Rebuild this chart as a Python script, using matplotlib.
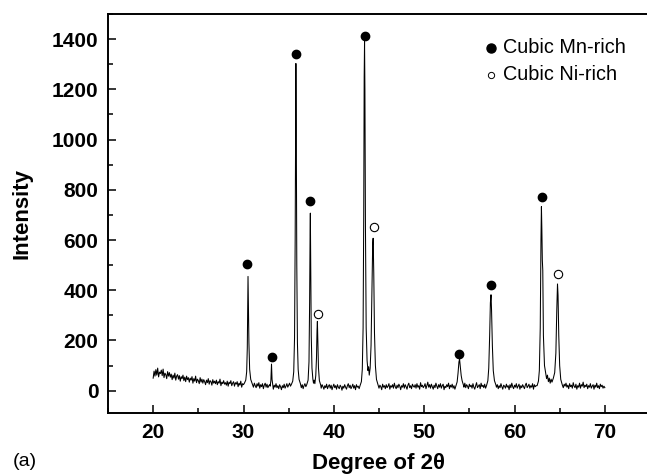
import numpy as np
import matplotlib
matplotlib.use("Agg")
import matplotlib.pyplot as plt
from matplotlib.ticker import MultipleLocator

plt.rcParams['font.family'] = ['Liberation Sans', 'DejaVu Sans']

# background counts, 2theta = 20.0, 20.1, ... 70.0 (one row per degree)
bg_start = 20.0
bg_step = 0.1
bg_counts = [
    50, 78, 58, 84, 62, 90, 55, 74, 68, 82,
    60, 86, 52, 70, 64, 48, 76, 58, 72, 54,
    66, 44, 62, 50, 70, 42, 58, 64, 46, 60,
    38, 56, 48, 62, 40, 54, 36, 58, 44, 52,
    34, 50, 42, 56, 30, 48, 38, 58, 32, 46,
    40, 28, 52, 34, 46, 30, 44, 36, 24, 42,
    32, 48, 26, 40, 36, 22, 44, 30, 38, 28,
    42, 24, 36, 30, 46, 20, 34, 28, 40, 26,
    32, 22, 38, 18, 34, 28, 40, 20, 30, 36,
    18, 32, 26, 36, 16, 30, 22, 38, 14, 28,
    24, 34, 20, 30, 26, 36, 28, 32, 22, 30,
    26, 14, 30, 20, 12, 28, 18, 32, 10, 24,
    16, 28, 8, 22, 30, 14, 26, 12, 20, 24,
    10, 26, 18, 6, 22, 14, 28, 12, 20, 8,
    24, 16, 4, 20, 12, 26, 10, 18, 28, 14,
    22, 30, 18, 26, 32, 24, 36, 40, 44, 40,
    34, 30, 26, 22, 12, 24, 8, 20, 28, 16,
    26, 30, 34, 38, 40, 42, 40, 36, 32, 34,
    36, 40, 44, 40, 30, 22, 10, 24, 16, 6,
    20, 12, 26, 8, 18, 24, 10, 22, 4, 16,
    26, 12, 20, 6, 24, 14, 8, 22, 16, 2,
    18, 10, 24, 14, 6, 20, 28, 12, 22, 8,
    16, 26, 10, 20, 4, 24, 14, 18, 8, 22,
    12, 26, 18, 22, 20, 20, 20, 20, 20, 20,
    20, 20, 20, 20, 20, 20, 20, 20, 20, 24,
    10, 22, 16, 4, 26, 14, 20, 8, 24, 12,
    18, 28, 6, 20, 14, 24, 10, 30, 16, 8,
    22, 12, 26, 18, 4, 20, 14, 28, 10, 24,
    16, 6, 22, 30, 12, 20, 8, 26, 18, 14,
    24, 10, 28, 14, 20, 6, 32, 16, 22, 12,
    18, 28, 8, 20, 34, 14, 24, 10, 26, 16,
    6, 22, 12, 30, 18, 8, 24, 14, 28, 10,
    20, 26, 4, 18, 12, 24, 16, 30, 8, 22,
    14, 26, 10, 20, 6, 18, 20, 20, 20, 20,
    20, 20, 20, 20, 14, 30, 12, 24, 18, 8,
    26, 16, 22, 10, 28, 14, 6, 20, 32, 12,
    18, 24, 8, 30, 16, 22, 12, 26, 10, 20,
    20, 20, 20, 20, 20, 20, 20, 20, 20, 20,
    14, 24, 8, 20, 12, 28, 16, 6, 22, 18,
    10, 26, 14, 20, 4, 24, 12, 30, 16, 8,
    22, 14, 28, 10, 18, 26, 6, 20, 12, 24,
    16, 8, 22, 30, 12, 18, 26, 10, 20, 14,
    28, 6, 24, 16, 20, 20, 20, 20, 20, 20,
    20, 20, 20, 20, 20, 20, 20, 20, 20, 20,
    20, 20, 20, 20, 20, 20, 20, 20, 20, 20,
    20, 20, 20, 20, 12, 26, 18, 30, 14, 22,
    8, 28, 16, 22, 10, 32, 18, 12, 26, 6,
    20, 14, 30, 10, 24, 18, 34, 12, 22, 16,
    26, 8, 20, 14, 28, 10, 18, 24, 6, 22,
    14, 30, 12, 20, 8, 26, 16, 22, 10, 18,
    12,
]

# peak profiles: (2theta, intensity)
peaks = [
    [(30.1, 30), (30.25, 42), (30.35, 75), (30.42, 170), (30.47, 340), (30.5, 455),
     (30.54, 360), (30.6, 190), (30.68, 85), (30.8, 45), (30.95, 30)],
    [(32.95, 18), (33.03, 40), (33.1, 106), (33.16, 45), (33.25, 20)],
    [(35.3, 25), (35.45, 38), (35.56, 75), (35.65, 210), (35.72, 600), (35.77, 1100),
     (35.8, 1303), (35.84, 1050), (35.9, 500), (35.97, 190), (36.05, 85), (36.15, 45),
     (36.3, 28)],
    [(37.0, 24), (37.15, 42), (37.25, 115), (37.32, 350), (37.37, 620), (37.4, 707),
     (37.44, 520), (37.5, 220), (37.58, 90), (37.68, 46), (37.75, 30), (37.82, 42),
     (37.9, 28), (38.0, 60), (38.08, 130), (38.14, 240), (38.18, 276), (38.23, 200),
     (38.3, 90), (38.4, 40), (38.55, 22)],
    [(42.9, 20), (43.05, 36), (43.15, 85), (43.24, 250), (43.31, 700), (43.36, 1250),
     (43.4, 1390), (43.44, 1200), (43.5, 650), (43.58, 250), (43.68, 120), (43.78, 80),
     (43.85, 95), (43.92, 62), (44.02, 90), (44.12, 180), (44.22, 400), (44.3, 580),
     (44.35, 607), (44.42, 470), (44.5, 230), (44.6, 100), (44.72, 45), (44.88, 25)],
    [(53.5, 18), (53.65, 35), (53.75, 70), (53.85, 115), (53.92, 125), (54.0, 95),
     (54.1, 60), (54.2, 40), (54.35, 22)],
    [(56.9, 20), (57.05, 40), (57.15, 90), (57.25, 220), (57.33, 350), (57.4, 382),
     (57.46, 320), (57.55, 180), (57.65, 80), (57.78, 40), (57.95, 22)],
    [(62.5, 20), (62.65, 38), (62.75, 80), (62.85, 250), (62.93, 600), (62.98, 733),
     (63.03, 640), (63.08, 520), (63.13, 480), (63.2, 220), (63.32, 100), (63.45, 70),
     (63.55, 48), (63.65, 62), (63.75, 36), (63.85, 50), (63.95, 30), (64.05, 46),
     (64.15, 34), (64.3, 50), (64.45, 72), (64.58, 150), (64.68, 320), (64.76, 425),
     (64.82, 380), (64.9, 220), (65.0, 100), (65.12, 45), (65.3, 22)],
]

# phase markers
mn_rich_x = [30.4, 33.1, 35.8, 37.4, 43.4, 53.9, 57.4, 63.0]
mn_rich_y = [506, 135, 1340, 756, 1413, 146, 419, 770]
ni_rich_x = [38.2, 44.4, 64.8]
ni_rich_y = [304, 650, 463]

# merge background and peaks
bg_x = np.round(bg_start + bg_step * np.arange(len(bg_counts)), 2)
bg_y = np.array(bg_counts, dtype=float)
keep = np.ones(len(bg_x), dtype=bool)
px, py = [], []
for pk in peaks:
    xs = [p[0] for p in pk]
    keep &= ~((bg_x >= min(xs)) & (bg_x <= max(xs)))
    px += xs
    py += [p[1] for p in pk]
two_theta = np.concatenate([bg_x[keep], px])
intensity = np.concatenate([bg_y[keep], py])
order = np.argsort(two_theta)
two_theta, intensity = two_theta[order], intensity[order]

fig = plt.figure(figsize=(6.47, 4.76), dpi=100)
ax = fig.add_axes([108/647, 1 - 413.3/476, 542/647, 399.3/476])

ax.plot(two_theta, intensity, color='black', lw=0.75)
ax.plot(mn_rich_x, mn_rich_y, 'o', color='black', ms=6, ls='none')
ax.plot(ni_rich_x, ni_rich_y, 'o', mfc='white', mec='black', mew=0.8, ms=6, ls='none')

ax.set_xlim(15, 75)
ax.set_ylim(-90, 1500)
ax.xaxis.set_minor_locator(MultipleLocator(5))
ax.yaxis.set_minor_locator(MultipleLocator(100))
ax.set_xticks([20, 30, 40, 50, 60, 70])
ax.set_yticks([0, 200, 400, 600, 800, 1000, 1200, 1400])
ax.tick_params(which='both', direction='in', width=1.1, top=False, right=False)
ax.tick_params(which='major', length=6, pad=7, labelsize=15)
ax.tick_params(which='minor', length=3.5)
for lab in ax.get_xticklabels() + ax.get_yticklabels():
    lab.set_fontweight('bold')
for s in ax.spines.values():
    s.set_linewidth(1.4)
ax.spines['right'].set_visible(False)

ax.set_xlabel('Degree of 2θ', fontsize=16, fontweight='bold', labelpad=8)
ax.set_ylabel('Intensity', fontsize=16, fontweight='bold', labelpad=14)

# legend drawn by hand
ax.plot([0.7066], [0.915], 'o', color='black', ms=6.5, transform=ax.transAxes, clip_on=False)
ax.plot([0.7066], [0.848], 'o', mfc='white', mec='black', mew=0.7, ms=4.5,
        transform=ax.transAxes, clip_on=False)
ax.text(0.7288, 0.915, 'Cubic Mn-rich', transform=ax.transAxes, fontsize=14.3, va='center')
ax.text(0.7288, 0.848, 'Cubic Ni-rich', transform=ax.transAxes, fontsize=14.3, va='center')

fig.text(13/647, 1 - 462/476, '(a)', fontsize=14, va='center', ha='left')

fig.savefig('out.png', dpi=100)
